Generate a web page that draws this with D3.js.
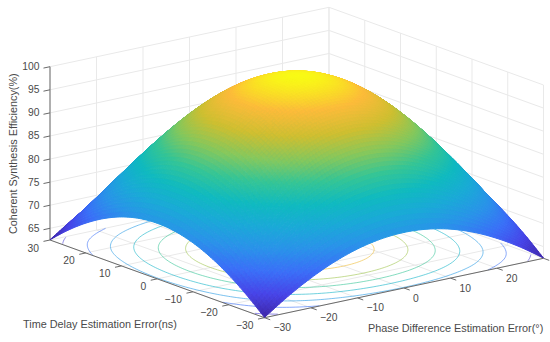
<!DOCTYPE html>
<html>
<head>
<meta charset="utf-8">
<script src="https://cdn.jsdelivr.net/npm/d3@7"></script>
<style>
html, body { margin: 0; padding: 0; background: #fff; }
svg { display: block; }
text { font-family: "Liberation Sans", Arial, sans-serif; fill: #4a4a4a; }
</style>
</head>
<body>
<div id="chart"></div>
<script>
// axis values
var phaseTicks = [-30, -20, -10, 0, 10, 20, 30];
var delayTicks = [-30, -20, -10, 0, 10, 20, 30];
var efficiencyTicks = [65, 70, 75, 80, 85, 90, 95, 100];
var contourLevels = [65, 70, 75, 80, 85, 90, 95];

// mesh nodes of the surface
var gridPhase = [-30, -25, -20, -15, -10, -5, 0, 5, 10, 15, 20, 25, 30];
var gridDelay = [-30, -25, -20, -15, -10, -5, 0, 5, 10, 15, 20, 25, 30];
var efficiency = [
	[62.53, 65.97, 68.92, 71.31, 73.07, 74.14, 74.50, 74.14, 73.07, 71.31, 68.92, 65.97, 62.53],
	[65.97, 70.66, 74.65, 77.85, 80.18, 81.59, 82.07, 81.59, 80.18, 77.85, 74.65, 70.66, 65.97],
	[68.92, 74.65, 79.49, 83.34, 86.14, 87.84, 88.41, 87.84, 86.14, 83.34, 79.49, 74.65, 68.92],
	[71.31, 77.85, 83.34, 87.70, 90.87, 92.79, 93.43, 92.79, 90.87, 87.70, 83.34, 77.85, 71.31],
	[73.07, 80.18, 86.14, 90.87, 94.29, 96.37, 97.06, 96.37, 94.29, 90.87, 86.14, 80.18, 73.07],
	[74.14, 81.59, 87.84, 92.79, 96.37, 98.54, 99.26, 98.54, 96.37, 92.79, 87.84, 81.59, 74.14],
	[74.50, 82.07, 88.41, 93.43, 97.06, 99.26, 100, 99.26, 97.06, 93.43, 88.41, 82.07, 74.50],
	[74.14, 81.59, 87.84, 92.79, 96.37, 98.54, 99.26, 98.54, 96.37, 92.79, 87.84, 81.59, 74.14],
	[73.07, 80.18, 86.14, 90.87, 94.29, 96.37, 97.06, 96.37, 94.29, 90.87, 86.14, 80.18, 73.07],
	[71.31, 77.85, 83.34, 87.70, 90.87, 92.79, 93.43, 92.79, 90.87, 87.70, 83.34, 77.85, 71.31],
	[68.92, 74.65, 79.49, 83.34, 86.14, 87.84, 88.41, 87.84, 86.14, 83.34, 79.49, 74.65, 68.92],
	[65.97, 70.66, 74.65, 77.85, 80.18, 81.59, 82.07, 81.59, 80.18, 77.85, 74.65, 70.66, 65.97],
	[62.53, 65.97, 68.92, 71.31, 73.07, 74.14, 74.50, 74.14, 73.07, 71.31, 68.92, 65.97, 62.53]
];
var efficiencyFloor = 62.47;

// parula colour map
var parulaStops = ["#3e26a8", "#4744e8", "#3a6ff8", "#2a92ea", "#1aa9d8", "#0fbac0", "#34c596", "#86c85c", "#cfbf30", "#fdbb3a", "#f9fb15"];

var width = 550,
	height = 342;

// the three box corners of the floor, in pixels
var frontCorner = [264.5, 317.7],
	leftCorner = [50, 240],
	rightCorner = [543.5, 258.3];

var phaseScale = d3.scaleLinear().domain([-30, 30]).range([0, 1]);
var delayScale = d3.scaleLinear().domain([-30, 30]).range([0, 1]);
var heightScale = d3.scaleLinear().domain([efficiencyFloor, 100]).range([0, -173.3]);
var colorScale = d3.scaleLinear()
	.domain(parulaStops.map(function(c, i) { return efficiencyFloor + (100 - efficiencyFloor) * i / 10; }))
	.range(parulaStops)
	.interpolate(d3.interpolateRgb);

//projection orthographique de (phase, delay, efficiency) vers le svg
function project(p, d, z)
{
	var a = phaseScale(p), b = delayScale(d);
	return [
		frontCorner[0] + a * (rightCorner[0] - frontCorner[0]) + b * (leftCorner[0] - frontCorner[0]),
		frontCorner[1] + a * (rightCorner[1] - frontCorner[1]) + b * (leftCorner[1] - frontCorner[1]) + heightScale(z)
	];
}

var svg = d3.select("#chart")
	.append("svg")
	.attr("width", width)
	.attr("height", height);

var line = d3.line();
var gridColor = "#e9e9e9";
var axisColor = "#6a6a6a";

function drawLine(target, pts, color, w)
{
	target.append("path")
		.attr("d", line(pts))
		.attr("fill", "none")
		.attr("stroke", color)
		.attr("stroke-width", w);
}

// grille des murs et du sol
var grid = svg.append("g").attr("class", "grid");
efficiencyTicks.forEach(function(z) {
	drawLine(grid, [project(-30, 30, z), project(30, 30, z), project(30, -30, z)], gridColor, 1);
});
phaseTicks.forEach(function(p) {
	drawLine(grid, [project(p, 30, efficiencyFloor), project(p, 30, 100)], gridColor, 1);
	drawLine(grid, [project(p, -30, efficiencyFloor), project(p, 30, efficiencyFloor)], gridColor, 1);
});
delayTicks.forEach(function(d) {
	drawLine(grid, [project(30, d, efficiencyFloor), project(30, d, 100)], gridColor, 1);
	drawLine(grid, [project(-30, d, efficiencyFloor), project(30, d, efficiencyFloor)], gridColor, 1);
});

//spline cubique entre les noeuds du maillage pour le rendu lisse (shading interp)
function catmull(a, b, c, d, t)
{
	return 0.5 * (2 * b + (c - a) * t + (2 * a - 5 * b + 4 * c - d) * t * t + (3 * b - a - 3 * c + d) * t * t * t);
}
function node(i, j)
{
	var n = gridPhase.length - 1;
	//en dehors du maillage : extrapolation lineaire
	if (i < 0) return 2 * node(0, j) - node(1, j);
	if (i > n) return 2 * node(n, j) - node(n - 1, j);
	if (j < 0) return 2 * node(i, 0) - node(i, 1);
	if (j > n) return 2 * node(i, n) - node(i, n - 1);
	return efficiency[i][j];
}
function surfaceAt(p, d)
{
	var n = gridPhase.length - 1;
	var u = (p - gridPhase[0]) / (gridPhase[n] - gridPhase[0]) * n,
		v = (d - gridDelay[0]) / (gridDelay[n] - gridDelay[0]) * n;
	var j = Math.min(Math.floor(u), n - 1), i = Math.min(Math.floor(v), n - 1);
	var vals = [-1, 0, 1, 2].map(function(o) {
		return catmull(node(i + o, j - 1), node(i + o, j), node(i + o, j + 1), node(i + o, j + 2), u - j);
	});
	return catmull(vals[0], vals[1], vals[2], vals[3], v - i);
}

var steps = 96;
var stepScale = d3.scaleLinear().domain([0, steps]).range([-30, 30]);

// contours au sol
var field = [];
d3.range(steps + 1).forEach(function(i) {
	d3.range(steps + 1).forEach(function(j) {
		field.push(surfaceAt(stepScale(j), stepScale(i)));
	});
});
var contourData = d3.contours().size([steps + 1, steps + 1]).thresholds(contourLevels)(field);
var contourLine = d3.line()
	.defined(function(c) { return c[0] > 0.5 && c[0] < steps + 0.5 && c[1] > 0.5 && c[1] < steps + 0.5; })
	.x(function(c) { return project(stepScale(c[0] - 0.5), stepScale(c[1] - 0.5), efficiencyFloor)[0]; })
	.y(function(c) { return project(stepScale(c[0] - 0.5), stepScale(c[1] - 0.5), efficiencyFloor)[1]; });
var contourGroup = svg.append("g").attr("class", "contours");
contourData.forEach(function(c) {
	c.coordinates.forEach(function(poly) {
		poly.forEach(function(ring) {
			contourGroup.append("path")
				.attr("d", contourLine(ring))
				.attr("fill", "none")
				.attr("stroke", colorScale(c.value))
				.attr("stroke-opacity", 0.6)
				.attr("stroke-width", 1);
		});
	});
});

// axes
var axes = svg.append("g").attr("class", "axes");
drawLine(axes, [project(-30, 30, efficiencyFloor), project(-30, -30, efficiencyFloor), project(30, -30, efficiencyFloor)], axisColor, 1);
drawLine(axes, [project(-30, 30, efficiencyFloor), project(-30, 30, 100)], axisColor, 1);
delayTicks.forEach(function(d) {
	drawLine(axes, [project(-30, d, efficiencyFloor), project(-31.4, d, efficiencyFloor)], axisColor, 1);
	var q = project(-30, d, efficiencyFloor);
	axes.append("text")
		.attr("x", q[0] - 11)
		.attr("y", q[1] + 11.5)
		.attr("text-anchor", "end")
		.attr("font-size", 10.3)
		.text(String(d).replace("-", "\u2212"));
});
phaseTicks.forEach(function(p) {
	drawLine(axes, [project(p, -30, efficiencyFloor), project(p, -31.6, efficiencyFloor)], axisColor, 1);
	//le label 30 sort de la fenetre dans l'original
	if (p === 30) return;
	var q = project(p, -30, efficiencyFloor);
	axes.append("text")
		.attr("x", q[0] + 9)
		.attr("y", q[1] + 13.5)
		.attr("text-anchor", "start")
		.attr("font-size", 10.3)
		.text(String(p).replace("-", "\u2212"));
});
efficiencyTicks.forEach(function(z) {
	var q = project(-30, 30, z);
	drawLine(axes, [q, project(-31.4, 30, z)], axisColor, 1);
	axes.append("text")
		.attr("x", q[0] - 10.5)
		.attr("y", q[1] + 3.5)
		.attr("text-anchor", "end")
		.attr("font-size", 10.3)
		.text(z);
});

axes.append("text")
	.attr("x", 23)
	.attr("y", 327.5)
	.attr("font-size", 10.85)
	.text("Time Delay Estimation Error(ns)");
axes.append("text")
	.attr("x", 368)
	.attr("y", 331.5)
	.attr("font-size", 10.85)
	.text("Phase Difference Estimation Error(\u00b0)");
axes.append("text")
	.attr("transform", "translate(16.5,234) rotate(-90)")
	.attr("font-size", 10.85)
	.text("Coherent Synthesis Efficiency(%)");

// surface : du fond vers l'avant
var surface = svg.append("g").attr("class", "surface");
var cells = [];
for (var i = steps - 1; i >= 0; i--) {
	for (var j = steps - 1; j >= 0; j--) {
		cells.push([i, j]);
	}
}
surface.selectAll("path")
	.data(cells)
	.join("path")
	.each(function(c) {
		var d0 = stepScale(c[0]), d1 = stepScale(c[0] + 1),
			p0 = stepScale(c[1]), p1 = stepScale(c[1] + 1);
		var zs = [field[c[0] * (steps + 1) + c[1]], field[c[0] * (steps + 1) + c[1] + 1],
			field[(c[0] + 1) * (steps + 1) + c[1] + 1], field[(c[0] + 1) * (steps + 1) + c[1]]];
		var col = colorScale(d3.mean(zs));
		d3.select(this)
			.attr("d", line([project(p0, d0, zs[0]), project(p1, d0, zs[1]), project(p1, d1, zs[2]), project(p0, d1, zs[3])]) + "Z")
			.attr("fill", col)
			.attr("stroke", col)
			.attr("stroke-width", 1);
	});
</script>
</body>
</html>
